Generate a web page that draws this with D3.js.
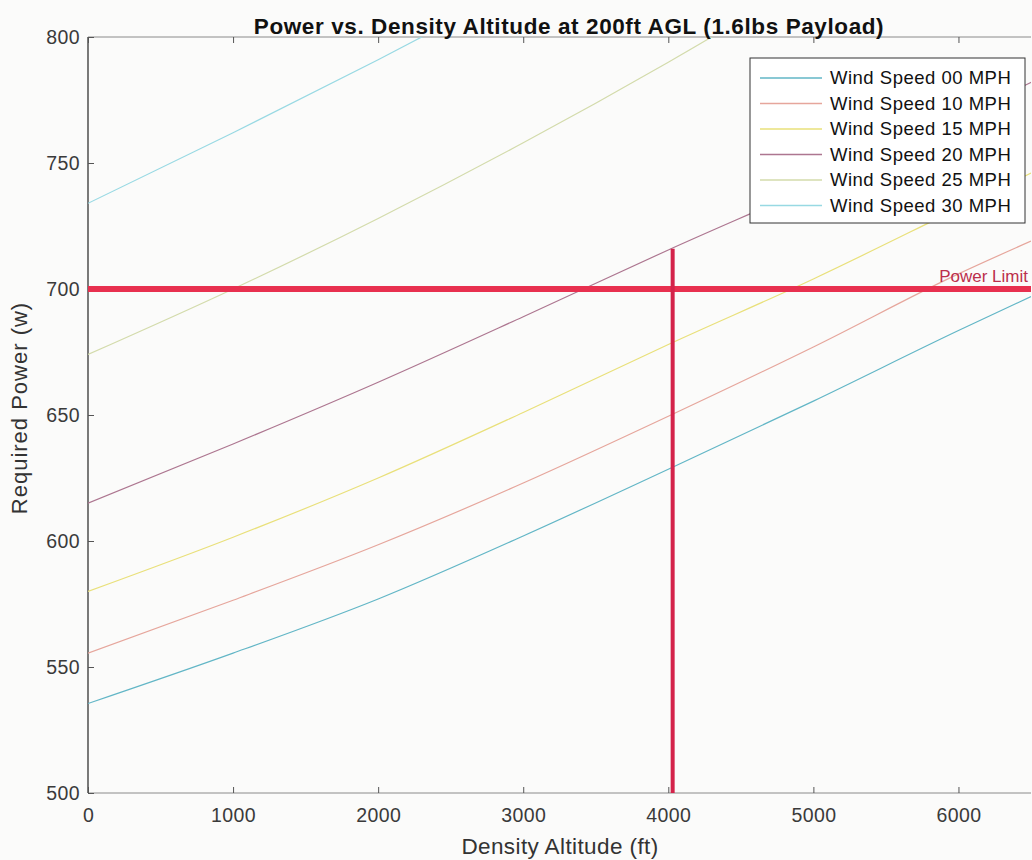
<!DOCTYPE html>
<html>
<head>
<meta charset="utf-8">
<script src="https://cdn.jsdelivr.net/npm/d3@7"></script>
<style>
    body { margin: 0; background: #fbfbfa; }
    text { font-family: "Liberation Sans", Arial, sans-serif; }
    .tick-label { font-size: 19.5px; letter-spacing: 0.4px; fill: #3a3a3a; }
    .title { font-size: 22.5px; letter-spacing: 0.6px; font-weight: bold; fill: #111; }
    .axis-title { font-size: 22.5px; letter-spacing: 0.4px; fill: #333; }
    .legend-text { font-size: 18.5px; letter-spacing: 0.5px; fill: #111; }
</style>
</head>
<body>
<div id="chart"></div>
<script>
//////////////////////////////////////////////////////////////
//////////////////////// Data ////////////////////////////////
//////////////////////////////////////////////////////////////

const altitudes = [0, 1000, 2000, 3000, 4000, 5000, 6000, 6500]
const seriesNames = ["Wind Speed 00 MPH", "Wind Speed 10 MPH", "Wind Speed 15 MPH", "Wind Speed 20 MPH", "Wind Speed 25 MPH", "Wind Speed 30 MPH"]
const power00 = [535.5, 555.5, 577, 602, 628.5, 655.5, 683.5, 697]
const power10 = [555.5, 576.5, 598.5, 623, 649.5, 677, 706, 719]
const power15 = [580, 601.5, 625, 651, 678, 704, 732, 746]
const power20 = [615, 638.5, 663, 689, 715.5, 741, 768, 782]
const power25 = [674, 700, 728, 758, 790, 824]
const power30 = [734, 762, 791, 821]
const powerLimit = 700
const altitudeLimit = 4030
const altitudeLimitTop = 716
const xTicks = [0, 1000, 2000, 3000, 4000, 5000, 6000]
const yTicks = [500, 550, 600, 650, 700, 750, 800]

const lineColors = ["#62b6c6", "#e6a69c", "#e9e07a", "#ad7690", "#d3dbab", "#98d9e3"]

//////////////////////////////////////////////////////////////
//////////////////////// Create SVG //////////////////////////
//////////////////////////////////////////////////////////////

const margin = { top: 37, right: 1, bottom: 67, left: 88 }
const width = 1032 - margin.left - margin.right
const height = 860 - margin.top - margin.bottom

const svg = d3.select("#chart")
    .append("svg")
    .attr("width", 1032)
    .attr("height", 860)

const g = svg.append("g")
    .attr("transform", "translate(" + margin.left + "," + margin.top + ")")

//////////////////////////////////////////////////////////////
////////////////////// Create scales /////////////////////////
//////////////////////////////////////////////////////////////

const xScale = d3.scaleLinear()
    .domain([0, 6500])
    .range([0, width])

const yScale = d3.scaleLinear()
    .domain([500, 800])
    .range([height, 0])

const line = d3.line()
    .x(d => xScale(d.x))
    .y(d => yScale(d.y))
    .curve(d3.curveMonotoneX)

g.append("clipPath")
    .attr("id", "clip-plot")
    .append("rect")
    .attr("width", width)
    .attr("height", height)

//////////////////////////////////////////////////////////////
//////////////////////// Draw axes ///////////////////////////
//////////////////////////////////////////////////////////////

//Box lines
g.append("line").attr("x1", 0).attr("x2", width).attr("y1", 0).attr("y2", 0)
    .style("stroke", "#8a8a8a").style("stroke-width", 1)
g.append("line").attr("x1", 0).attr("x2", width).attr("y1", height).attr("y2", height)
    .style("stroke", "#8a8a8a").style("stroke-width", 1)
g.append("line").attr("x1", 0).attr("x2", 0).attr("y1", 0).attr("y2", height)
    .style("stroke", "#333").style("stroke-width", 1.3)

//Bottom axis - ticks point inward
const xAxis = g.append("g")
    .attr("transform", "translate(0," + height + ")")
    .call(d3.axisBottom(xScale).tickValues(xTicks).tickFormat(d3.format("d"))
        .tickSizeInner(-6).tickSizeOuter(0).tickPadding(15))
xAxis.select(".domain").remove()
xAxis.selectAll("line").style("stroke", "#555")
xAxis.selectAll("text").attr("class", "tick-label")

//Top ticks
g.append("g")
    .call(d3.axisTop(xScale).tickValues(xTicks).tickSizeInner(-6).tickSizeOuter(0).tickFormat(""))
    .call(a => a.select(".domain").remove())
    .selectAll("line").style("stroke", "#555")

//Left axis
const yAxis = g.append("g")
    .call(d3.axisLeft(yScale).tickValues(yTicks).tickSizeInner(-6).tickSizeOuter(0).tickPadding(8))
yAxis.select(".domain").remove()
yAxis.selectAll("line").style("stroke", "#555")
yAxis.selectAll("text").attr("class", "tick-label")

//////////////////////////////////////////////////////////////
//////////////////////// Draw lines //////////////////////////
//////////////////////////////////////////////////////////////

const allPower = [power00, power10, power15, power20, power25, power30]
const series = allPower.map((vals, i) => ({
    name: seriesNames[i],
    color: lineColors[i],
    values: vals.map((v, j) => ({ x: altitudes[j], y: v }))
}))

const lines = g.append("g")
    .attr("clip-path", "url(#clip-plot)")

lines.selectAll(".wind-line")
    .data(series)
    .enter().append("path")
    .attr("class", "wind-line")
    .attr("d", d => line(d.values))
    .style("fill", "none")
    .style("stroke", d => d.color)
    .style("stroke-width", 1.2)

//Power limit line
lines.append("line")
    .attr("x1", 0)
    .attr("x2", width)
    .attr("y1", yScale(powerLimit))
    .attr("y2", yScale(powerLimit))
    .style("stroke", "#e8304f")
    .style("stroke-width", 6)

//Altitude limit line
lines.append("line")
    .attr("x1", xScale(altitudeLimit))
    .attr("x2", xScale(altitudeLimit))
    .attr("y1", yScale(500))
    .attr("y2", yScale(altitudeLimitTop))
    .style("stroke", "#d4234a")
    .style("stroke-width", 4)

g.append("text")
    .attr("x", width - 3)
    .attr("y", yScale(powerLimit) - 7)
    .attr("text-anchor", "end")
    .style("font-size", "17px")
    .style("fill", "#bb2f4c")
    .text("Power Limit")

//////////////////////////////////////////////////////////////
//////////////////////// Legend //////////////////////////////
//////////////////////////////////////////////////////////////

const legend = svg.append("g")
    .attr("transform", "translate(750,58)")

legend.append("rect")
    .attr("width", 275)
    .attr("height", 165)
    .style("fill", "#fff")
    .style("stroke", "#333")
    .style("stroke-width", 1)

const legendRows = legend.selectAll(".legend-row")
    .data(series)
    .enter().append("g")
    .attr("class", "legend-row")
    .attr("transform", (d, i) => "translate(0," + (20 + i * 25.5) + ")")

legendRows.append("line")
    .attr("x1", 10)
    .attr("x2", 72)
    .style("stroke", d => d.color)
    .style("stroke-width", 1.3)

legendRows.append("text")
    .attr("class", "legend-text")
    .attr("x", 80)
    .attr("dy", "0.35em")
    .text(d => d.name)

//////////////////////////////////////////////////////////////
//////////////////////// Titles //////////////////////////////
//////////////////////////////////////////////////////////////

svg.append("text")
    .attr("class", "title")
    .attr("x", 569)
    .attr("y", 34)
    .attr("text-anchor", "middle")
    .text("Power vs. Density Altitude at 200ft AGL (1.6lbs Payload)")

svg.append("text")
    .attr("class", "axis-title")
    .attr("x", 560)
    .attr("y", 854)
    .attr("text-anchor", "middle")
    .text("Density Altitude (ft)")

svg.append("text")
    .attr("class", "axis-title")
    .style("font-size", "22px")
    .style("letter-spacing", "1px")
    .attr("transform", "translate(27,408) rotate(-90)")
    .attr("text-anchor", "middle")
    .text("Required Power (w)")
</script>
</body>
</html>
